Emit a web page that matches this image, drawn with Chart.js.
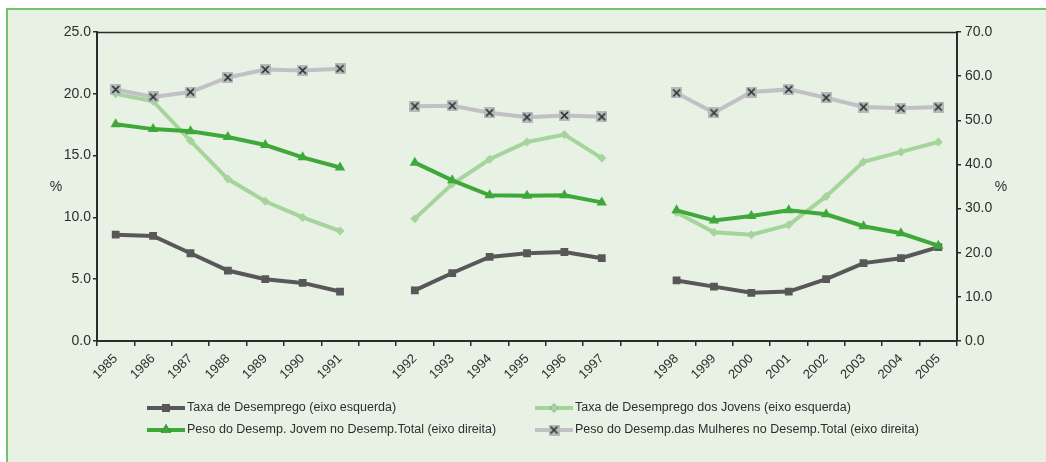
<!DOCTYPE html>
<html>
<head>
<meta charset="utf-8">
<script src="https://cdn.jsdelivr.net/npm/chart.js@4/dist/chart.umd.min.js"></script>
<style>
  html, body { margin: 0; padding: 0; background: #ffffff; }
  #frame {
    position: absolute; left: 6px; top: 8px; width: 1040px; height: 454px;
    background: #e7f1e4; border-left: 2px solid #74c26d; border-top: 2px solid #74c26d;
    box-sizing: border-box;
  }
  #wrap { position: absolute; left: 0; top: 0; width: 1046px; height: 462px; }
</style>
</head>
<body>
<div id="frame"></div>
<div id="wrap"><canvas id="c" width="1046" height="462"></canvas></div>
<script>
// Years (empty slots separate the three periods)
const years = ['1985','1986','1987','1988','1989','1990','1991','',
               '1992','1993','1994','1995','1996','1997','',
               '1998','1999','2000','2001','2002','2003','2004','2005'];

// Left axis (%)
const taxaDesemprego = [8.6, 8.5, 7.1, 5.7, 5.0, 4.7, 4.0, null,
                        4.1, 5.5, 6.8, 7.1, 7.2, 6.7, null,
                        4.9, 4.4, 3.9, 4.0, 5.0, 6.3, 6.7, 7.6];
const taxaJovens = [20.0, 19.4, 16.2, 13.1, 11.3, 10.0, 8.9, null,
                    9.9, 12.7, 14.7, 16.1, 16.7, 14.8, null,
                    10.4, 8.8, 8.6, 9.4, 11.7, 14.5, 15.3, 16.1];

// Right axis (%)
const pesoJovem = [49.1, 48.0, 47.5, 46.2, 44.4, 41.6, 39.3, null,
                   40.4, 36.4, 33.0, 32.9, 33.0, 31.4, null,
                   29.6, 27.3, 28.3, 29.6, 28.7, 26.0, 24.4, 21.6];
const pesoMulheres = [57.0, 55.3, 56.4, 59.7, 61.5, 61.3, 61.7, null,
                      53.2, 53.3, 51.7, 50.7, 51.1, 50.8, null,
                      56.2, 51.7, 56.4, 57.0, 55.1, 53.0, 52.7, 53.0];

const seriesNames = [
  'Taxa de Desemprego (eixo esquerda)',
  'Taxa de Desemprego dos Jovens (eixo esquerda)',
  'Peso do Desemp. Jovem no Desemp.Total (eixo direita)',
  'Peso do Desemp.das Mulheres no Desemp.Total (eixo direita)'
];

const COL_DARK = '#58585a';
const COL_LIGHT = '#a5d59b';
const COL_GREEN = '#3fa83a';
const COL_GREY = '#c1c1c5';
const AXIS = '#2b2b2b';
const TEXT = '#2e2e2e';

// Grey square with a dark cross, used as the marker of the last series
function crossMarker(size) {
  const cv = document.createElement('canvas');
  cv.width = size; cv.height = size;
  const g = cv.getContext('2d');
  g.fillStyle = '#b9b9bd';
  g.fillRect(0, 0, size, size);
  g.strokeStyle = '#1d3327';
  g.lineWidth = 1.6;
  g.beginPath();
  g.moveTo(2, 2); g.lineTo(size - 2, size - 2);
  g.moveTo(size - 2, 2); g.lineTo(2, size - 2);
  g.stroke();
  return cv;
}
const xMark = crossMarker(11);

function tickFmt(v) { return Number(v).toFixed(1); }

// Two-column legend and the "%" axis captions
const extras = {
  id: 'extras',
  afterDraw(chart) {
    const ctx = chart.ctx;
    const a = chart.chartArea;
    ctx.save();
    // top border of the plot box
    ctx.strokeStyle = AXIS;
    ctx.lineWidth = 1.5;
    ctx.beginPath();
    ctx.moveTo(a.left, a.top + 0.5);
    ctx.lineTo(a.right, a.top + 0.5);
    ctx.stroke();

    ctx.fillStyle = TEXT;
    ctx.font = '14px "Liberation Sans", Arial, sans-serif';
    ctx.textAlign = 'center';
    ctx.textBaseline = 'middle';
    ctx.fillText('%', 56, 187);
    ctx.fillText('%', 1001, 187);

    const cols = [147, 535];
    const rows = [408, 430];
    chart.data.datasets.forEach((ds, i) => {
      const x = cols[i % 2];
      const y = rows[Math.floor(i / 2)];
      ctx.strokeStyle = ds.borderColor;
      ctx.lineWidth = 4;
      ctx.beginPath();
      ctx.moveTo(x, y); ctx.lineTo(x + 38, y);
      ctx.stroke();
      const cx = x + 19;
      if (ds.pointStyle instanceof HTMLCanvasElement) {
        ctx.drawImage(ds.pointStyle, cx - 5.5, y - 5.5);
      } else {
        Chart.helpers.drawPoint(ctx, {
          pointStyle: ds.pointStyle, radius: ds.pointRadius, rotation: 0, borderWidth: 0
        }, cx, y);
        ctx.fillStyle = ds.pointBackgroundColor;
        ctx.fill();
      }
      ctx.fillStyle = TEXT;
      ctx.font = '12.5px "Liberation Sans Narrow", "Liberation Sans", Arial, sans-serif';
      ctx.textAlign = 'left';
      ctx.textBaseline = 'middle';
      ctx.fillText(ds.label, x + 40, y);
    });
    ctx.restore();
  }
};

const tickFont = { family: '"Liberation Sans", Arial, sans-serif', size: 14 };

new Chart(document.getElementById('c'), {
  type: 'line',
  data: {
    labels: years,
    datasets: [
      {
        label: seriesNames[0], data: taxaDesemprego, yAxisID: 'yL',
        borderColor: COL_DARK, backgroundColor: COL_DARK, borderWidth: 4,
        pointStyle: 'rect', pointRadius: 5.5, pointBackgroundColor: COL_DARK,
        pointBorderWidth: 0, order: 3
      },
      {
        label: seriesNames[1], data: taxaJovens, yAxisID: 'yL',
        borderColor: COL_LIGHT, backgroundColor: COL_LIGHT, borderWidth: 4,
        pointStyle: 'rectRot', pointRadius: 4.5, pointBackgroundColor: COL_LIGHT,
        pointBorderWidth: 0, order: 4
      },
      {
        label: seriesNames[2], data: pesoJovem, yAxisID: 'yR',
        borderColor: COL_GREEN, backgroundColor: COL_GREEN, borderWidth: 4,
        pointStyle: 'triangle', pointRadius: 6, pointBackgroundColor: COL_GREEN,
        pointBorderWidth: 0, order: 2
      },
      {
        label: seriesNames[3], data: pesoMulheres, yAxisID: 'yR',
        borderColor: COL_GREY, backgroundColor: COL_GREY, borderWidth: 4,
        pointStyle: xMark, pointRadius: 5.5, order: 1
      }
    ]
  },
  options: {
    responsive: false,
    animation: false,
    spanGaps: false,
    events: [],
    layout: { padding: { top: 32, left: 0, right: 0, bottom: 0 } },
    plugins: { legend: { display: false }, tooltip: { enabled: false } },
    scales: {
      x: {
        type: 'category',
        offset: true,
        grid: { offset: true, drawOnChartArea: false, drawTicks: true, tickLength: 5, color: AXIS, lineWidth: 1.5 },
        border: { display: true, color: AXIS, width: 2 },
        ticks: { autoSkip: false, minRotation: 45, maxRotation: 45, padding: 5, color: TEXT, font: { ...tickFont, size: 13 } },
        afterFit(s) { s.height = 121; }
      },
      yL: {
        position: 'left', min: 0, max: 25,
        grid: { drawOnChartArea: false, tickLength: 4, color: AXIS, lineWidth: 1.5 },
        border: { display: true, color: AXIS, width: 2 },
        ticks: { stepSize: 5, padding: 2, color: TEXT, font: tickFont, callback: tickFmt },
        afterFit(s) { s.width = 97; }
      },
      yR: {
        position: 'right', min: 0, max: 70,
        grid: { drawOnChartArea: false, tickLength: 4, color: AXIS, lineWidth: 1.5 },
        border: { display: true, color: AXIS, width: 2 },
        ticks: { stepSize: 10, padding: 4, color: TEXT, font: tickFont, callback: tickFmt },
        afterFit(s) { s.width = 89; }
      }
    }
  },
  plugins: [extras]
});
</script>
</body>
</html>
